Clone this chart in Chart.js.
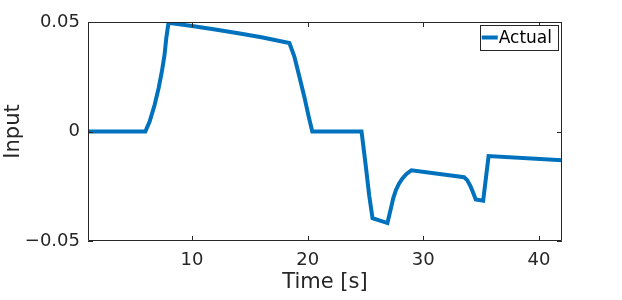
<!DOCTYPE html>
<html>
<head>
<meta charset="utf-8">
<script src="https://cdn.jsdelivr.net/npm/chart.js@4"></script>
<style>
  html, body { margin: 0; padding: 0; background: #fff; }
  #wrap { width: 622px; height: 300px; }
</style>
</head>
<body>
<div id="wrap"><canvas id="chart" width="622" height="300"></canvas></div>
<script>
// values
const timeS = [1, 5.96, 6.33, 6.76, 7.11, 7.39, 7.62, 7.77, 7.96,
  10, 12, 14, 16, 18.42, 18.85, 19.28, 19.71, 20.09, 20.4,
  24.66, 25.04, 25.33, 25.61, 26.9, 27.2, 27.4, 27.63, 27.9, 28.2, 28.55, 28.98,
  33.53, 33.8, 34.1, 34.3, 34.54, 35.18, 35.65, 42]
const inputVals = [0, 0, 0.0045, 0.0121, 0.0198, 0.0274, 0.035, 0.0426, 0.0496,
  0.0482, 0.0466, 0.0449, 0.0430, 0.0404, 0.0342, 0.0251, 0.0159, 0.0068, 0,
  0, -0.0163, -0.0295, -0.0396, -0.0418, -0.0351, -0.0305, -0.0268, -0.0238, -0.0214, -0.0194, -0.0177,
  -0.0209, -0.0222, -0.0252, -0.0277, -0.0310, -0.0316, -0.0112, -0.0131]
const seriesName = 'Actual'
const xRange = [1, 42]
const yRange = [-0.05, 0.05]
const xTicks = [10, 20, 30, 40]
const yTicks = [-0.05, 0, 0.05]
const yTickLabels = ['\u22120.05', '0', '0.05']

const FONT = '"DejaVu Sans", sans-serif'
const AXIS_COLOR = '#262626'
const LINE_COLOR = '#0072BD'

// box around the axes with inward ticks on all four sides, like matlab
const axesBox = {
    id: 'axesBox',
    afterDatasetsDraw(chart) {
        const ctx = chart.ctx
        const a = chart.chartArea
        const xs = chart.scales.x, ys = chart.scales.y
        const tl = 5
        ctx.save()
        ctx.strokeStyle = AXIS_COLOR
        ctx.lineWidth = 1
        ctx.beginPath()
        ctx.rect(a.left + 0.5, a.top + 0.5, a.right - a.left - 1, a.bottom - a.top - 1)
        xs.ticks.forEach(t => {
            const px = Math.round(xs.getPixelForValue(t.value)) + 0.5
            ctx.moveTo(px, a.bottom); ctx.lineTo(px, a.bottom - tl)
            ctx.moveTo(px, a.top); ctx.lineTo(px, a.top + tl)
        })
        ys.ticks.forEach(t => {
            const py = Math.round(ys.getPixelForValue(t.value)) + 0.5
            ctx.moveTo(a.left, py); ctx.lineTo(a.left + tl, py)
            ctx.moveTo(a.right, py); ctx.lineTo(a.right - tl, py)
        })
        ctx.stroke()
        ctx.restore()
    }
}

// legend box inside the top right corner
const insideLegend = {
    id: 'insideLegend',
    afterDraw(chart) {
        const ctx = chart.ctx
        const a = chart.chartArea
        const ds = chart.data.datasets[0]
        ctx.save()
        ctx.font = '17px ' + FONT
        const tw = ctx.measureText(ds.label).width
        const h = 25
        const w = 2 + 16 + 1 + tw + 6
        const right = a.right - 4
        const left = right - w
        const top = a.top + 3
        ctx.fillStyle = '#fff'
        ctx.fillRect(left, top, w, h)
        ctx.strokeStyle = AXIS_COLOR
        ctx.lineWidth = 1
        ctx.strokeRect(Math.round(left) + 0.5, top + 0.5, Math.round(w), h)
        ctx.strokeStyle = ds.borderColor
        ctx.lineWidth = 4
        ctx.beginPath()
        ctx.moveTo(left + 2, top + h / 2)
        ctx.lineTo(left + 18, top + h / 2)
        ctx.stroke()
        ctx.fillStyle = '#000'
        ctx.textBaseline = 'middle'
        ctx.fillText(ds.label, left + 19, top + h / 2 + 1)
        ctx.restore()
    }
}

const ctx = document.getElementById('chart').getContext('2d')
new Chart(ctx, {
    type: 'line',
    data: {
        datasets: [{
            label: seriesName,
            data: timeS.map((t, i) => ({ x: t, y: inputVals[i] })),
            borderColor: LINE_COLOR,
            borderWidth: 4,
            pointRadius: 0,
            tension: 0,
            fill: false
        }]
    },
    options: {
        responsive: false,
        animation: false,
        devicePixelRatio: 1,
        layout: { padding: { top: 22, right: 60, left: 0, bottom: 0 } },
        plugins: {
            legend: { display: false },
            tooltip: { enabled: false }
        },
        scales: {
            x: {
                type: 'linear',
                min: xRange[0],
                max: xRange[1],
                afterBuildTicks: s => { s.ticks = xTicks.map(v => ({ value: v })) },
                afterFit: s => { s.height = 59 },
                grid: { display: false, drawTicks: false },
                border: { display: false },
                ticks: {
                    autoSkip: false,
                    maxRotation: 0,
                    padding: 9,
                    color: AXIS_COLOR,
                    font: { family: FONT, size: 18 },
                    callback: v => String(v)
                },
                title: {
                    display: true,
                    text: 'Time [s]',
                    color: AXIS_COLOR,
                    font: { family: FONT, size: 21, lineHeight: 1 },
                    padding: { top: 0, bottom: 7 }
                }
            },
            y: {
                type: 'linear',
                min: yRange[0],
                max: yRange[1],
                afterBuildTicks: s => { s.ticks = yTicks.map(v => ({ value: v })) },
                afterFit: s => { s.width = 88 },
                grid: { display: false, drawTicks: false },
                border: { display: false },
                ticks: {
                    autoSkip: false,
                    padding: 8,
                    color: AXIS_COLOR,
                    font: { family: FONT, size: 18 },
                    callback: (v, i) => yTickLabels[i]
                },
                title: {
                    display: true,
                    text: 'Input',
                    color: AXIS_COLOR,
                    font: { family: FONT, size: 21, lineHeight: 1 },
                    padding: { top: 3, bottom: 0 }
                }
            }
        }
    },
    plugins: [axesBox, insideLegend]
})
</script>
</body>
</html>
